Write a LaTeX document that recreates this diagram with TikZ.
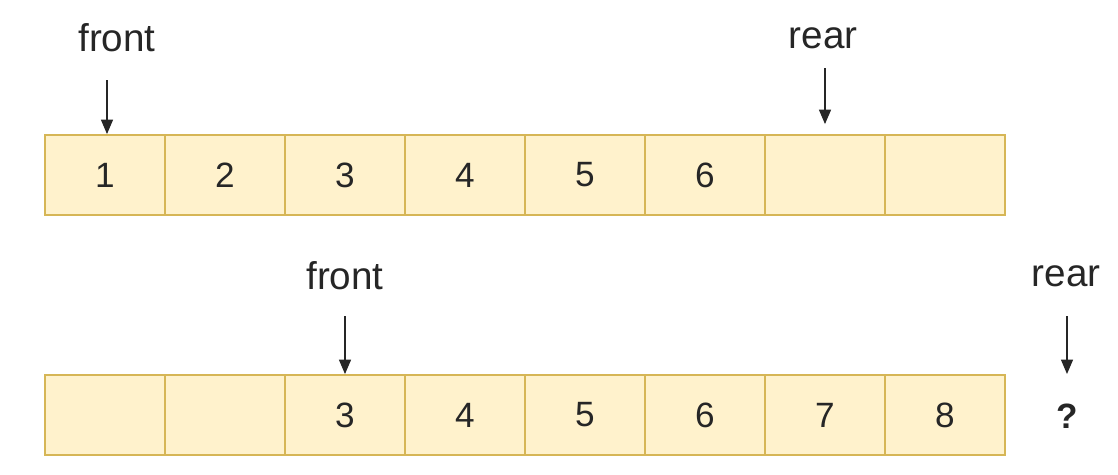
\documentclass[tikz,border=0pt]{standalone}
\usepackage{fontspec}
\setmainfont{Liberation Sans}
\usetikzlibrary{arrows.meta}
\definecolor{cellfill}{HTML}{FFF2CC}
\definecolor{celldraw}{HTML}{D6B656}
\definecolor{txt}{HTML}{262626}
\tikzset{>={Triangle[length=0.36cm,width=0.3cm]}}
\tikzset{
	cell/.style={draw=celldraw, fill=cellfill, line width=1.3pt, minimum width=3cm, minimum height=2cm, inner sep=0pt, text=txt, font=\fontsize{25}{29}\selectfont},
	lbl/.style={inner sep=0pt, text=txt, font=\fontsize{27.5}{31}\selectfont},
	ptr/.style={->, line width=0.9pt, txt}
}
\begin{document}
\begin{tikzpicture}[x=0.025cm, y=-0.025cm]
	\useasboundingbox (0,0) rectangle (1118,474);
	% top queue
	\foreach \i/\v in {1/1,2/2,3/3,4/4,5/5,6/6,7/,8/}
		\node[cell] (t\i) at (105+120*\i-120, 175) {\v};
	% bottom queue
	\foreach \i/\v in {1/,2/,3/3,4/4,5/5,6/6,7/7,8/8}
		\node[cell] (b\i) at (105+120*\i-120, 415) {\v};

	\node[lbl] (tfront) at (117,38) {front};
	\node[lbl] (trear) at (823,38) {rear};
	\node[lbl] (bfront) at (345,276) {front};
	\node[lbl] (brear) at (1066,276) {rear};
	\node[lbl, font=\bfseries\fontsize{25}{29}\selectfont] (qmark) at (1067,416) {?};

	\draw[ptr] ([xshift=0.05cm]t1.north |- 0,80) -- ([xshift=0.05cm]t1.north);
	\draw[ptr, shorten >=0.25cm] (t7.north |- 0,68) -- (t7.north);
	\draw[ptr] (b3.north |- 0,316) -- (b3.north);
	\draw[ptr] (qmark.north |- 0,316) -- (qmark.north |- 0,374);
\end{tikzpicture}
\end{document}
